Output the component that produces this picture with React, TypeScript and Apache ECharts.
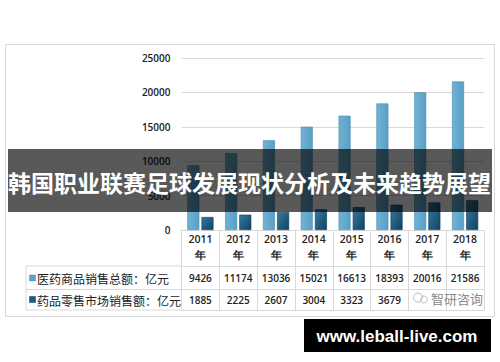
import React, { useEffect, useRef } from "react";
import * as echarts from "echarts";

const years = ["2011", "2012", "2013", "2014", "2015", "2016", "2017", "2018"];
const totalSales = [9426, 11174, 13036, 15021, 16613, 18393, 20016, 21586];
const retailSales = [1885, 2225, 2607, 3004, 3323, 3679, 4003, 4317];
// table cells of the retail row (the last two are covered by a watermark in the picture)
const retailCellLabels = ["1885", "2225", "2607", "3004", "3323", "3679", "", ""];
const seriesNames = ["医药商品销售总额：亿元", "药品零售市场销售额：亿元"];
const titleText = "韩国职业联赛足球发展现状分析及未来趋势展望";
const bannerText = "www.leball-live.com";
const watermarkText = "智研咨询";

const GRID = "#d9d9d9";
const NUM_FONT = "'Open Sans', 'Liberation Sans', sans-serif";
const CJK_FONT = "'Noto Sans CJK SC', 'Noto Sans', sans-serif";

export default function App() {
  const ref = useRef<HTMLDivElement>(null);

  useEffect(() => {
    document.body.style.margin = "0";
    if (!ref.current) return;
    const chart = echarts.init(ref.current, undefined, { renderer: "svg" });

    const tableAxis = (offset: number, labels: string[] | null, margin: number) => ({
      type: "category",
      gridIndex: 0,
      data: years,
      position: "bottom",
      offset,
      axisLine: { show: true, lineStyle: { color: GRID, width: 1 } },
      axisTick: { show: false },
      axisLabel: labels
        ? {
            show: true,
            interval: 0,
            margin,
            verticalAlign: "middle",
            formatter: (_v: string, i: number) => labels[i],
            fontFamily: NUM_FONT,
            fontSize: 10,
            fontWeight: 600,
            color: "#222",
          }
        : { show: false },
    });

    chart.setOption({
      animation: false,
      backgroundColor: "#fff",
      grid: { left: 181.5, right: 16, top: 58, bottom: 132, containLabel: false },
      xAxis: [
        {
          type: "category",
          data: years,
          position: "bottom",
          axisLine: { show: true, lineStyle: { color: GRID, width: 1 } },
          axisTick: { show: true, length: 80, interval: 0, lineStyle: { color: GRID, width: 1 } },
          axisLabel: {
            interval: 0,
            margin: 1,
            formatter: (v: string) => `${v}\n年`,
            fontFamily: NUM_FONT,
            fontSize: 10.5,
            fontWeight: 600,
            lineHeight: 16,
            color: "#222",
          },
        },
        tableAxis(36, totalSales.map(String), 12.3),
        tableAxis(59.5, retailCellLabels, 10),
        tableAxis(80, null, 0),
      ],
      yAxis: {
        type: "value",
        min: 0,
        max: 25000,
        interval: 5000,
        axisLine: { show: false },
        axisTick: { show: false },
        axisLabel: {
          margin: 11,
          formatter: (v: number) => String(v),
          fontFamily: NUM_FONT,
          fontSize: 10,
          fontWeight: 600,
          color: "#222",
        },
        splitLine: { lineStyle: { color: GRID, width: 1 } },
      },
      series: [
        {
          name: seriesNames[0],
          type: "bar",
          data: totalSales,
          barWidth: 12,
          barGap: "18%",
          itemStyle: {
            color: new echarts.graphic.LinearGradient(0, 0, 1, 0, [
              { offset: 0, color: "#70b3d5" },
              { offset: 1, color: "#5a9fc4" },
            ]),
            borderColor: "#4b8cb0",
            borderWidth: 0.6,
          },
        },
        {
          name: seriesNames[1],
          type: "bar",
          data: retailSales,
          barWidth: 12,
          itemStyle: {
            color: new echarts.graphic.LinearGradient(0, 0, 1, 1, [
              { offset: 0, color: "#3a7a9d" },
              { offset: 1, color: "#0f4363" },
            ]),
            borderColor: "#0e3d5a",
            borderWidth: 0.6,
          },
        },
      ],
      graphic: [
        {
          type: "rect",
          z: -1,
          shape: { x: 5.5, y: 44.5, width: 489, height: 272 },
          style: { fill: "none", stroke: GRID, lineWidth: 1 },
        },
        {
          type: "rect",
          z: 1,
          shape: { x: 26, y: 266, width: 155.5, height: 44 },
          style: { fill: "none", stroke: GRID, lineWidth: 1 },
        },
        {
          type: "line",
          z: 1,
          shape: { x1: 26, y1: 289.5, x2: 181.5, y2: 289.5 },
          style: { stroke: GRID, lineWidth: 1 },
        },
        {
          type: "rect",
          z: 5,
          shape: { x: 29.5, y: 275, width: 6, height: 6 },
          style: { fill: "#5ea6c9", stroke: "#4b8cb0", lineWidth: 0.5 },
        },
        {
          type: "rect",
          z: 5,
          shape: { x: 29.5, y: 296.5, width: 6, height: 6 },
          style: { fill: "#1f5c7e", stroke: "#0e3d5a", lineWidth: 0.5 },
        },
        {
          type: "text",
          z: 5,
          x: 37,
          y: 278.5,
          style: {
            text: seriesNames[0],
            fontFamily: CJK_FONT,
            fontSize: 12,
            fill: "#222",
            verticalAlign: "middle",
          },
        },
        {
          type: "text",
          z: 5,
          x: 37,
          y: 300,
          style: {
            text: seriesNames[1],
            fontFamily: CJK_FONT,
            fontSize: 12,
            fill: "#222",
            verticalAlign: "middle",
          },
        },
        {
          type: "circle",
          z: 5,
          shape: { cx: 418, cy: 297.5, r: 4.5 },
          style: { fill: "none", stroke: "#bbb", lineWidth: 1 },
        },
        {
          type: "circle",
          z: 5,
          shape: { cx: 424, cy: 299.5, r: 3.5 },
          style: { fill: "none", stroke: "#bbb", lineWidth: 1 },
        },
        {
          type: "text",
          z: 5,
          x: 431,
          y: 298,
          style: {
            text: watermarkText,
            fontFamily: CJK_FONT,
            fontSize: 13,
            fill: "#8a8a8a",
            verticalAlign: "middle",
          },
        },
        {
          type: "rect",
          z: 100,
          shape: { x: 8, y: 149, width: 484, height: 63 },
          style: { fill: "rgba(0,0,0,0.65)" },
        },
        {
          type: "text",
          z: 101,
          x: 249.5,
          y: 182,
          style: {
            text: titleText,
            fontFamily: CJK_FONT,
            fontSize: 23,
            fontWeight: "bold",
            fill: "#fff",
            align: "center",
            verticalAlign: "middle",
          },
        },
        {
          type: "rect",
          z: 100,
          shape: { x: 304, y: 319, width: 187, height: 33 },
          style: { fill: "#000" },
        },
        {
          type: "text",
          z: 101,
          x: 397,
          y: 336,
          style: {
            text: bannerText,
            fontFamily: "'Liberation Sans', Arial, sans-serif",
            fontSize: 17,
            fontWeight: "bold",
            fill: "#fff",
            align: "center",
            verticalAlign: "middle",
          },
        },
      ],
    });

    return () => chart.dispose();
  }, []);

  return <div ref={ref} style={{ width: 500, height: 362 }} />;
}
